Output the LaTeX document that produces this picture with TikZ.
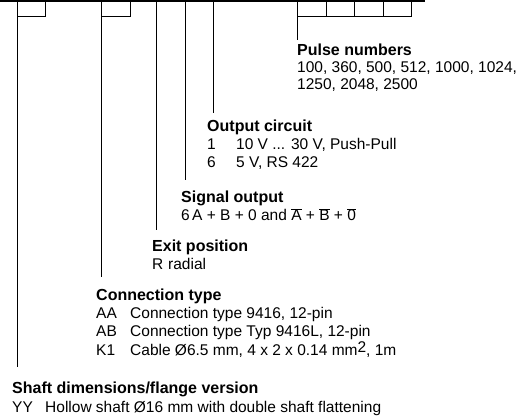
\documentclass[tikz,border=0pt]{standalone}
\usepackage{fontspec}
\setmainfont{Liberation Sans}
\usetikzlibrary{positioning}

\newcommand{\ovl}[1]{$\overline{\mbox{#1}}$}

\begin{document}
\begin{tikzpicture}[x=1pt, y=-1pt,
        every node/.style={inner sep=0pt, anchor=base west, font=\fontsize{15.5}{18}\selectfont},
        head/.style={font=\fontsize{16}{18}\selectfont\bfseries},
        slot/.style={draw, line width=0.7pt, minimum height=15pt, anchor=north west},
        lead/.style={line width=0.7pt}
    ]
    \useasboundingbox (0,0) rectangle (522,419);
    % Type key bar
    \draw[line width=2.5pt] (0,1) -- (425,1);
    \node[slot, minimum width=28pt] (s1) at (17,1) {};
    \node[slot, minimum width=29pt] (s2) at (101,1) {};
    \foreach \i in {0,...,3}
        \node[slot, minimum width=28.5pt] (p\i) at ({297+28.5*\i},1) {};
    \coordinate (t3) at (156,1);
    \coordinate (t4) at (185,1);
    \coordinate (t5) at (213,1);
    % Lead ends
    \coordinate (e1) at (17,367);
    \coordinate (e2) at (101,277);
    \coordinate (e3) at (156,230);
    \coordinate (e4) at (185,180);
    \coordinate (e5) at (213,113);
    \coordinate (e6) at (297,40);
    % Leads
    \draw[lead] (s1.south west) -- (e1);
    \draw[lead] (s2.south west) -- (e2);
    \draw[lead] (t3) -- (e3);
    \draw[lead] (t4) -- (e4);
    \draw[lead] (t5) -- (e5);
    \draw[lead] (p0.south west) -- (e6);
    % Pulse numbers
    \node[head] (pulse) at (297,56) {Pulse numbers};
    \node (pulseA) at (297,73) {100, 360, 500, 512, 1000, 1024,};
    \node (pulseB) at (297,90) {1250, 2048, 2500};
    % Output circuit
    \node[head] (circ) at (207,132) {Output circuit};
    \node (circA) at (207,150) {1};
    \node (circAt) at (236,150) {10 V ... 30 V, Push-Pull};
    \node (circB) at (207,168) {6};
    \node (circBt) at (236,168) {5 V, RS 422};
    % Signal output
    \node[head] (sig) at (181,203) {Signal output};
    \node (sigA) at (181,221) {6};
    \node (sigAt) at (192,221) {A + B + 0 and \ovl{A} + \ovl{B} + \ovl{0}};
    % Exit position
    \node[head] (exit) at (152,252) {Exit position};
    \node (exitA) at (152,270) {R};
    \node (exitAt) at (168,270) {radial};
    % Connection type
    \node[head] (conn) at (96,301) {Connection type};
    \node (connA) at (96,319) {AA};
    \node (connAt) at (130,319) {Connection type 9416, 12-pin};
    \node (connB) at (96,337) {AB};
    \node (connBt) at (130,337) {Connection type Typ 9416L, 12-pin};
    \node (connC) at (96,356) {K1};
    \node (connCt) at (130,356) {Cable Ø6.5 mm, 4 x 2 x 0.14 mm\raisebox{3pt}{2}, 1m};
    % Shaft dimensions
    \node[head] (shaft) at (12,393) {Shaft dimensions/flange version};
    \node (shaftA) at (12,412) {YY};
    \node (shaftAt) at (45,412) {Hollow shaft Ø16 mm with double shaft flattening};
\end{tikzpicture}
\end{document}
